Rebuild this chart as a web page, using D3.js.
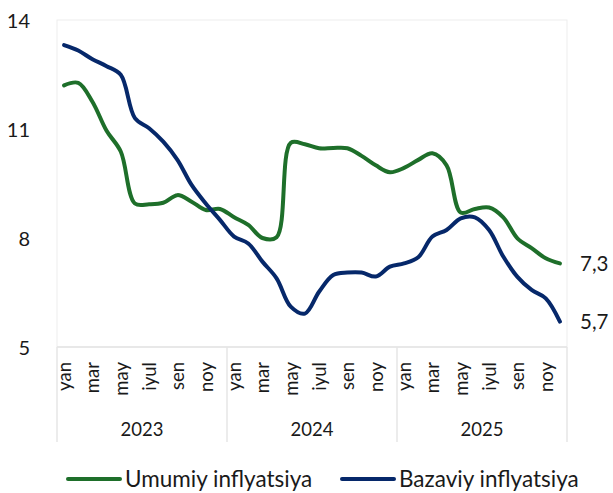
<!DOCTYPE html>
<html>
<head>
<meta charset="utf-8">
<script src="https://cdn.jsdelivr.net/npm/d3@7/dist/d3.min.js"></script>
<style>
  html, body { margin: 0; padding: 0; background: #ffffff; }
  svg { display: block; font-family: Lato, "Noto Sans", sans-serif; }
</style>
</head>
<body>
<svg id="chart" width="613" height="493"></svg>
<script>
const years = ["2023", "2024", "2025"];
const months = ["yan", "fev", "mar", "apr", "may", "iyun", "iyul", "avg", "sen", "okt", "noy", "dek"];
const yTicks = [5, 8, 11, 14];
const seriesNames = ["Umumiy inflyatsiya", "Bazaviy inflyatsiya"];
const umumiy = [12.2, 12.27, 11.75, 10.95, 10.38, 8.95, 8.93, 8.97, 9.18, 9.0, 8.77, 8.8,
                8.57, 8.36, 8.0, 8.02, 10.62, 10.58, 10.47, 10.48, 10.47, 10.26, 10.0, 9.81,
                9.93, 10.15, 10.33, 10.0, 8.7, 8.8, 8.84, 8.57, 7.99, 7.72, 7.44, 7.3];
const bazaviy = [13.31, 13.16, 12.92, 12.73, 12.49, 11.3, 11.02, 10.65, 10.15, 9.46, 8.95, 8.5,
                 8.04, 7.85, 7.35, 6.89, 6.11, 5.92, 6.52, 6.98, 7.05, 7.05, 6.94, 7.21,
                 7.3, 7.47, 8.04, 8.22, 8.54, 8.57, 8.22, 7.49, 6.93, 6.57, 6.34, 5.7];
const endLabels = ["7,3", "5,7"];
const colors = ["#1e6f2a", "#06286a"];

(function () {
const svg = d3.select("#chart");
const mLeft = 57, mRight = 567, mTop = 20, mBottom = 347;
const n = umumiy.length;
const idx = d3.range(n);

const x = d3.scaleBand().domain(idx).range([mLeft, mRight]).padding(0);
const xc = i => x(i) + x.bandwidth() / 2;
const y = d3.scaleLinear().domain([5, 14]).range([mBottom, mTop]);

// plot frame
svg.append("rect").attr("x", mLeft).attr("y", mTop).attr("width", mRight - mLeft).attr("height", mBottom - mTop)
  .attr("fill", "none").attr("stroke", "#ededed").attr("stroke-width", 1);

// y axis
const yAxis = svg.append("g").attr("transform", `translate(${mLeft - 24},0)`)
  .call(d3.axisLeft(y).tickValues(yTicks).tickSize(0).tickFormat(d3.format("d")));
yAxis.select(".domain").remove();
yAxis.selectAll("text").attr("font-size", 20).attr("fill", "#1a1a1a").attr("font-family", "Lato, sans-serif").attr("dy", "0.36em");

// x axis base line
svg.append("line").attr("x1", mLeft).attr("x2", mRight).attr("y1", mBottom).attr("y2", mBottom)
  .attr("stroke", "#e3e3e3").attr("stroke-width", 1.5);

// month labels
const xAxis = svg.append("g").attr("transform", `translate(0,${mBottom})`)
  .call(d3.axisBottom(x).tickSize(0).tickFormat(i => (i % 2 === 0 ? months[i % 12] : "")));
xAxis.select(".domain").remove();
xAxis.selectAll("text")
  .attr("font-size", 18.5).attr("fill", "#1a1a1a").attr("font-family", "Lato, sans-serif")
  .attr("text-anchor", "end")
  .attr("transform", "rotate(-90)")
  .attr("x", -15).attr("y", 0).attr("dy", "0.37em");

// year separators and labels
const yearScale = d3.scaleBand().domain(years).range([mLeft, mRight]);
const seps = [mLeft].concat(years.map(yr => yearScale(yr) + yearScale.bandwidth()));
svg.selectAll(".sep").data(seps).enter().append("line")
  .attr("x1", d => d).attr("x2", d => d).attr("y1", mBottom).attr("y2", 442)
  .attr("stroke", "#e6e6e6").attr("stroke-width", 1.5);
svg.selectAll(".yr").data(years).enter().append("text")
  .attr("x", d => yearScale(d) + yearScale.bandwidth() / 2).attr("y", 436)
  .attr("text-anchor", "middle").attr("font-size", 18.5).attr("fill", "#1a1a1a")
  .text(d => d);

// lines
const line = d3.line().x((d, i) => xc(i)).y(d => y(d)).curve(d3.curveCatmullRom.alpha(0.5));
[umumiy, bazaviy].forEach((s, k) => {
  svg.append("path").datum(s).attr("d", line).attr("fill", "none")
    .attr("stroke", colors[k]).attr("stroke-width", 4).attr("stroke-linejoin", "round").attr("stroke-linecap", "round");
});

// end labels
[umumiy, bazaviy].forEach((s, k) => {
  svg.append("text").attr("x", 580).attr("y", y(s[n - 1])).attr("dy", "0.36em")
    .attr("font-size", 20.5).attr("fill", "#1a1a1a").text(endLabels[k]);
});

// legend
const legendX = [68, 342];
seriesNames.forEach((name, k) => {
  const g = svg.append("g").attr("transform", `translate(${legendX[k]},479)`);
  g.append("line").attr("x1", 0).attr("x2", 52).attr("y1", 0).attr("y2", 0)
    .attr("stroke", colors[k]).attr("stroke-width", 4).attr("stroke-linecap", "round");
  g.append("text").attr("x", 57).attr("y", 0).attr("dy", "0.36em")
    .attr("font-size", 22.5).attr("fill", "#1a1a1a").text(name);
});
})();
</script>
</body>
</html>
